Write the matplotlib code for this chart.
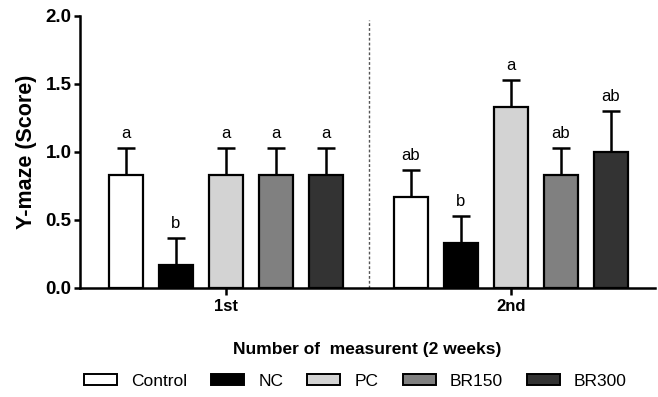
import numpy as np
import matplotlib
matplotlib.use("Agg")
import matplotlib.pyplot as plt
from matplotlib.patches import Patch

plt.rcParams['font.family'] = ['Liberation Sans', 'DejaVu Sans']

groups = ['1st', '2nd']
treatments = ['Control', 'NC', 'PC', 'BR150', 'BR300']
colors = ['#ffffff', '#000000', '#d3d3d3', '#808080', '#333333']

means_1st = [0.83, 0.17, 0.83, 0.83, 0.83]
err_1st = [0.20, 0.20, 0.20, 0.20, 0.20]
means_2nd = [0.67, 0.33, 1.33, 0.83, 1.00]
err_2nd = [0.20, 0.20, 0.20, 0.20, 0.30]
letters_1st = ['a', 'b', 'a', 'a', 'a']
letters_2nd = ['ab', 'b', 'a', 'ab', 'ab']

centers = [2.92, 8.62]
width = 0.68

fig = plt.figure(figsize=(6.58, 3.97), dpi=100)
ax = fig.add_axes([0.1216, 0.2746, 0.8738, 0.6851])

for gi, (means, errs, letters) in enumerate([(means_1st, err_1st, letters_1st),
                                             (means_2nd, err_2nd, letters_2nd)]):
    for i in range(len(treatments)):
        x = centers[gi] + (i - 2)
        ax.bar(x, means[i], width=width, color=colors[i], edgecolor='black',
               linewidth=1.6, zorder=3)
        ax.errorbar(x, means[i], yerr=[[0], [errs[i]]], fmt='none', ecolor='black',
                    elinewidth=1.8, capsize=6.5, capthick=1.8, zorder=2)
        ax.text(x, means[i] + errs[i] + 0.05, letters[i], ha='center', va='bottom',
                fontsize=12)

ax.axvline(5.78, ymax=0.985, color='#555555', linestyle=(0, (2, 1.5)), linewidth=1)

ax.set_xlim(0, 11.5)
ax.set_ylim(0, 2.0)
ax.set_yticks([0.0, 0.5, 1.0, 1.5, 2.0])
ax.set_yticklabels(['0.0', '0.5', '1.0', '1.5', '2.0'], fontsize=13.5, fontweight='bold')
ax.set_xticks(centers)
ax.set_xticklabels(groups, fontsize=12, fontweight='bold')
ax.tick_params(axis='y', width=1.8, length=4, color='black', pad=2)
ax.tick_params(axis='x', width=1.8, length=5, color='black', pad=3)
ax.spines['top'].set_visible(False)
ax.spines['right'].set_visible(False)
ax.spines['left'].set_linewidth(1.8)
ax.spines['bottom'].set_linewidth(1.8)

ax.set_ylabel('Y-maze (Score)', fontsize=15.5, fontweight='bold', labelpad=6)
ax.set_xlabel('Number of  measurent (2 weeks)', fontsize=12.5, fontweight='bold',
              labelpad=20)

handles = [Patch(facecolor=c, edgecolor='black', linewidth=1.4, label=t)
           for c, t in zip(colors, treatments)]
fig.legend(handles=handles, loc='center', bbox_to_anchor=(0.54, 0.04), ncol=5,
           frameon=False, fontsize=12.5, handlelength=1.9, handleheight=0.6,
           columnspacing=1.4, handletextpad=0.8)

fig.savefig('out.png', dpi=100)
